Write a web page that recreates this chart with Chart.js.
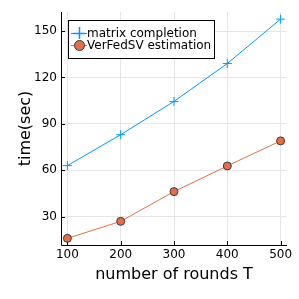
<!DOCTYPE html>
<html>
<head>
<meta charset="utf-8">
<script src="https://cdn.jsdelivr.net/npm/chart.js@4"></script>
<style>
  html, body { margin: 0; padding: 0; background: #fff; }
  #wrap { width: 299px; height: 299px; }
</style>
</head>
<body>
<div id="wrap"><canvas id="chart" width="299" height="299"></canvas></div>
<script>
// data
const rounds = [100, 200, 300, 400, 500];
const matrixCompletion = [63, 83, 104.5, 129, 157.7];
const verFedSV = [16, 27, 46.2, 62.8, 79];
const xTicks = [100, 200, 300, 400, 500];
const yTicks = [30, 60, 90, 120, 150];

const BLUE = '#009af9';
const ORANGE = '#e26f46';
const FONT = "'DejaVu Sans', sans-serif";

// legend drawn inside the plot area, top left, like Plots.jl
const innerLegend = {
  id: 'innerLegend',
  afterDraw(chart) {
    const ctx = chart.ctx;
    const area = chart.chartArea;
    const x0 = area.left + 7, y0 = area.top + 8;
    const w = 146, h = 38;
    ctx.save();
    ctx.fillStyle = '#fff';
    ctx.fillRect(x0, y0, w, h);
    ctx.strokeStyle = '#000';
    ctx.lineWidth = 1;
    ctx.strokeRect(x0 + 0.5, y0 + 0.5, w, h);
    ctx.font = '12px ' + FONT;
    ctx.textBaseline = 'middle';
    chart.data.datasets.forEach((ds, i) => {
      const cy = Math.round(y0 + 13 + i * 12);
      const cx = x0 + 11;
      ctx.strokeStyle = ds.borderColor;
      ctx.lineWidth = 1;
      ctx.beginPath();
      ctx.moveTo(x0 + 3, cy + 0.5);
      ctx.lineTo(x0 + 19, cy + 0.5);
      ctx.stroke();
      if (ds.pointStyle === 'cross') {
        ctx.lineWidth = 1.5;
        ctx.beginPath();
        ctx.moveTo(cx - 6, cy + 0.5); ctx.lineTo(cx + 6, cy + 0.5);
        ctx.moveTo(cx + 0.5, cy - 6); ctx.lineTo(cx + 0.5, cy + 6);
        ctx.stroke();
      } else {
        ctx.fillStyle = ds.pointBackgroundColor;
        ctx.strokeStyle = ds.pointBorderColor;
        ctx.beginPath();
        ctx.arc(cx + 0.5, cy + 0.5, 5, 0, Math.PI * 2);
        ctx.fill();
        ctx.stroke();
      }
      ctx.fillStyle = '#000';
      ctx.fillText(ds.label, x0 + 19, cy + 1);
    });
    ctx.restore();
  }
};

// axis lines and small inward ticks
const axisFrame = {
  id: 'axisFrame',
  beforeDatasetsDraw(chart) {
    const ctx = chart.ctx;
    const a = chart.chartArea;
    const xs = chart.scales.x, ys = chart.scales.y;
    ctx.save();
    ctx.strokeStyle = '#000';
    ctx.lineWidth = 1;
    ctx.beginPath();
    ctx.moveTo(a.left + 0.5, a.top);
    ctx.lineTo(a.left + 0.5, a.bottom + 0.5);
    ctx.lineTo(a.right, a.bottom + 0.5);
    xTicks.forEach(v => {
      const px = Math.round(xs.getPixelForValue(v)) + 0.5;
      ctx.moveTo(px, a.bottom);
      ctx.lineTo(px, a.bottom - 4);
    });
    yTicks.forEach(v => {
      const py = Math.round(ys.getPixelForValue(v)) + 0.5;
      ctx.moveTo(a.left, py);
      ctx.lineTo(a.left + 4, py);
    });
    ctx.stroke();
    ctx.restore();
  }
};

const ctx = document.getElementById('chart').getContext('2d');
new Chart(ctx, {
  type: 'line',
  data: {
    datasets: [
      {
        label: 'matrix completion',
        data: rounds.map((r, i) => ({ x: r, y: matrixCompletion[i] })),
        borderColor: BLUE,
        borderWidth: 1,
        pointStyle: 'cross',
        pointRadius: 4.5,
        pointBorderColor: BLUE,
        pointBackgroundColor: BLUE,
        pointBorderWidth: 1,
        tension: 0
      },
      {
        label: 'VerFedSV estimation',
        data: rounds.map((r, i) => ({ x: r, y: verFedSV[i] })),
        borderColor: ORANGE,
        borderWidth: 1,
        pointStyle: 'circle',
        pointRadius: 4,
        pointBorderColor: '#3a3a3a',
        pointBackgroundColor: ORANGE,
        pointBorderWidth: 1,
        tension: 0
      }
    ]
  },
  options: {
    responsive: false,
    animation: false,
    layout: { padding: { left: 0, right: 12, top: 12, bottom: 15 } },
    plugins: { legend: { display: false }, tooltip: { enabled: false } },
    scales: {
      x: {
        type: 'linear',
        min: 88,
        max: 512,
        afterBuildTicks: s => { s.ticks = xTicks.map(v => ({ value: v })); },
        afterFit: s => { s.height = 39; },
        border: { display: false },
        grid: { color: '#e6e6e6', drawTicks: false },
        ticks: { color: '#000', font: { family: FONT, size: 12 }, padding: 3, maxRotation: 0 },
        title: { display: true, text: 'number of rounds T', color: '#000', font: { family: FONT, size: 16 }, padding: { top: 0, bottom: 0 } }
      },
      y: {
        type: 'linear',
        min: 11.7,
        max: 162.3,
        afterBuildTicks: s => { s.ticks = yTicks.map(v => ({ value: v })); },
        afterFit: s => { s.width = 61; },
        border: { display: false },
        grid: { color: '#e6e6e6', drawTicks: false },
        ticks: { color: '#000', font: { family: FONT, size: 12 }, padding: 4 },
        title: { display: true, text: 'time(sec)', color: '#000', font: { family: FONT, size: 16 }, padding: { bottom: 0, top: 16 } }
      }
    }
  },
  plugins: [axisFrame, innerLegend]
});
</script>
</body>
</html>
